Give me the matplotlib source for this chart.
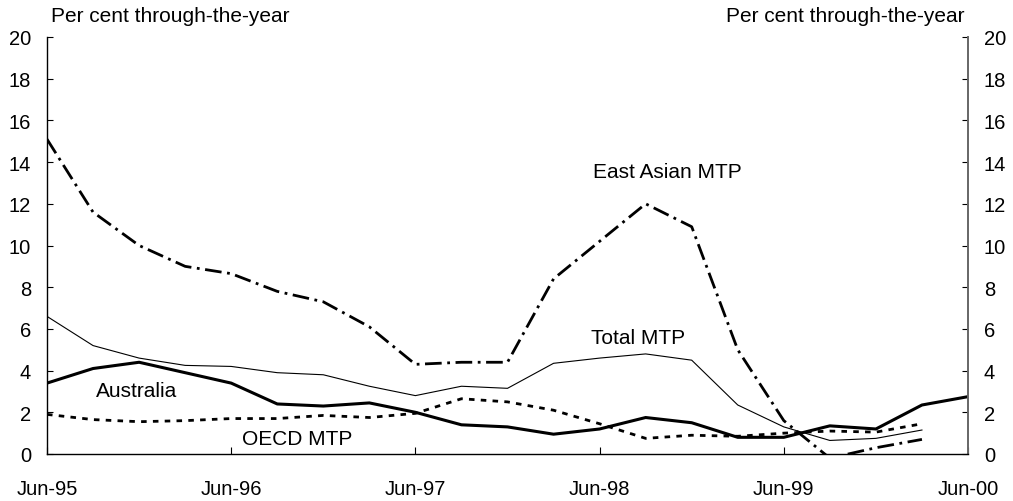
import matplotlib
matplotlib.use("Agg")
import matplotlib.pyplot as plt

plt.rcParams['font.family'] = ['Liberation Sans', 'DejaVu Sans']
plt.rcParams['lines.scale_dashes'] = False

quarters = ["Jun-95", "Sep-95", "Dec-95", "Mar-96", "Jun-96", "Sep-96", "Dec-96", "Mar-97",
            "Jun-97", "Sep-97", "Dec-97", "Mar-98", "Jun-98", "Sep-98", "Dec-98", "Mar-99",
            "Jun-99", "Sep-99", "Dec-99", "Mar-00", "Jun-00"]
tick_labels = ["Jun-95", "Jun-96", "Jun-97", "Jun-98", "Jun-99", "Jun-00"]

east_asian = [15.1, 11.6, 10.0, 9.0, 8.65, 7.8, 7.3, 6.1, 4.3, 4.4, 4.4, 8.4, 10.2, 12.0,
              10.9, 5.0, 1.6, -0.2, 0.3, 0.7]
total_mtp = [6.6, 5.2, 4.6, 4.25, 4.2, 3.9, 3.8, 3.25, 2.8, 3.25, 3.15, 4.35, 4.6, 4.8,
             4.5, 2.35, 1.3, 0.65, 0.75, 1.15]
australia = [3.4, 4.1, 4.4, 3.9, 3.4, 2.4, 2.3, 2.45, 2.0, 1.4, 1.3, 0.95, 1.2, 1.75,
             1.5, 0.8, 0.8, 1.35, 1.2, 2.35, 2.75]
oecd_mtp = [1.9, 1.65, 1.55, 1.6, 1.7, 1.7, 1.85, 1.75, 1.95, 2.65, 2.5, 2.1, 1.45, 0.75,
            0.9, 0.85, 1.0, 1.1, 1.05, 1.45]

fig = plt.figure(figsize=(10.13, 5.02), dpi=100)
ax = fig.add_axes([47/1013, 47/502, (968-47)/1013, (455-38)/502])

x_ea = list(range(len(east_asian)))
x_tot = list(range(len(total_mtp)))
x_au = list(range(len(australia)))
x_oe = list(range(len(oecd_mtp)))

ax.plot(x_ea, east_asian, color='black', lw=2.0, dashes=(12, 4, 2, 4))
ax.plot(x_tot, total_mtp, color='black', lw=0.8)
ax.plot(x_au, australia, color='black', lw=2.2)
ax.plot(x_oe, oecd_mtp, color='black', lw=2.0, dashes=(4, 4.5))

ax.set_xlim(0, 20)
ax.set_ylim(0, 20)
ax.set_xticks(range(0, 21, 4))
ax.set_xticklabels(tick_labels)
ax.set_yticks(range(0, 21, 2))

ax.spines['top'].set_visible(False)
ax.spines['right'].set_color('#666666')
ax.spines['right'].set_linewidth(1.4)
ax.spines['left'].set_linewidth(1.0)
ax.spines['bottom'].set_linewidth(1.0)

ax.tick_params(axis='x', direction='in', length=5, pad=18, labelsize=14.5)
ax.tick_params(axis='y', direction='in', length=4.5, pad=11.5, labelsize=14.5,
               left=True, right=True, labelleft=True, labelright=True)

fig.text(51/1013, 1 - 16/502, "Per cent through-the-year", ha='left', va='center', fontsize=15)
fig.text(964/1013, 1 - 16/502, "Per cent through-the-year", ha='right', va='center', fontsize=15)

def lab(px, py, s):
    fig.text(px/1013, 1 - py/502, s, ha='center', va='center', fontsize=15)

lab(667, 173, "East Asian MTP")
lab(638, 339, "Total MTP")
lab(137, 392, "Australia")
lab(297, 440, "OECD MTP")

fig.savefig("out.png", dpi=100)
